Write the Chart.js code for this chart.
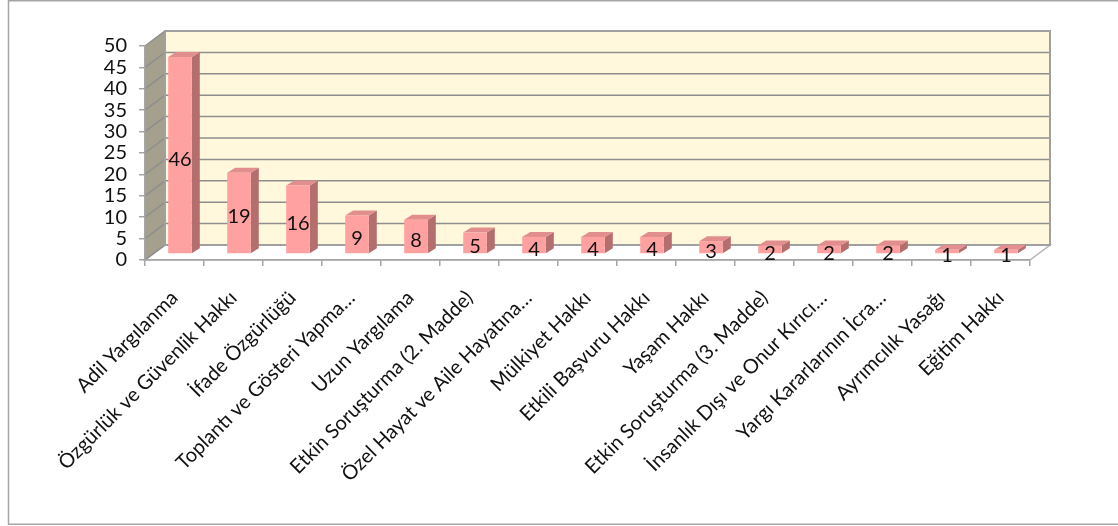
<!DOCTYPE html>
<html lang="tr">
<head>
<meta charset="utf-8">
<title>Hak ihlalleri</title>
<script src="https://cdn.jsdelivr.net/npm/chart.js@4.4.1/dist/chart.umd.min.js"></script>
<style>
  html, body { margin: 0; padding: 0; background: #fff; }
  #wrap { width: 1118px; height: 526px; }
</style>
</head>
<body>
<div id="wrap"><canvas id="chart" width="1118" height="526"></canvas></div>
<script>
const CATEGORIES = [
  'Adil Yargılanma',
  'Özgürlük ve Güvenlik Hakkı',
  'İfade Özgürlüğü',
  'Toplantı ve Gösteri Yapma…',
  'Uzun Yargılama',
  'Etkin Soruşturma (2. Madde)',
  'Özel Hayat ve Aile Hayatına…',
  'Mülkiyet Hakkı',
  'Etkili Başvuru Hakkı',
  'Yaşam Hakkı',
  'Etkin Soruşturma (3. Madde)',
  'İnsanlık Dışı ve Onur Kırıcı…',
  'Yargı Kararlarının İcra…',
  'Ayrımcılık Yasağı',
  'Eğitim Hakkı'
];
const VALUES = [46, 19, 16, 9, 8, 5, 4, 4, 4, 3, 2, 2, 2, 1, 1];

const Y_MIN = 0;
const Y_MAX = 50;
const Y_STEP = 5;

// 3B görünüm: kutunun derinliği ve çubukların kayması
const DEPTH_X = 20, DEPTH_Y = -15;
const BAR_SHIFT_X = 5.5, BAR_SHIFT_Y = -6;
const BAR_DX = 8, BAR_DY = -5;

const FAMILY = 'Lato, "Open Sans", sans-serif';
const TEXT = '#111111';
const AXIS = '#a6a6a6';
const GRID = '#8e8e8e';

function poly(ctx, pts, fill, stroke, lw) {
  ctx.beginPath();
  ctx.moveTo(pts[0][0], pts[0][1]);
  for (let i = 1; i < pts.length; i++) ctx.lineTo(pts[i][0], pts[i][1]);
  ctx.closePath();
  if (fill) { ctx.fillStyle = fill; ctx.fill(); }
  if (stroke) { ctx.strokeStyle = stroke; ctx.lineWidth = lw || 1; ctx.stroke(); }
}

const box3d = {
  id: 'box3d',
  beforeDraw(chart) {
    const { ctx, chartArea: a, scales: { y } } = chart;
    const L = a.left, R = a.right, T = a.top, B = a.bottom;

    ctx.save();
    // çerçeve
    ctx.strokeStyle = '#a6a6a6';
    ctx.lineWidth = 1.5;
    ctx.strokeRect(8.5, 0.75, 1200, 523.5);

    // zemin
    poly(ctx, [[L, B], [L + DEPTH_X, B + DEPTH_Y], [R + DEPTH_X, B + DEPTH_Y], [R, B]], '#ffffff', '#b4b4b4', 1.5);
    // sol duvar
    poly(ctx, [[L, T], [L + DEPTH_X, T + DEPTH_Y], [L + DEPTH_X, B + DEPTH_Y], [L, B]], '#a59f8d', '#9a9a9a', 1);
    // arka duvar
    poly(ctx, [[L + DEPTH_X, T + DEPTH_Y], [R + DEPTH_X, T + DEPTH_Y], [R + DEPTH_X, B + DEPTH_Y], [L + DEPTH_X, B + DEPTH_Y]], '#fff8dc', null);

    ctx.strokeStyle = GRID;
    ctx.lineWidth = 1.5;
    for (let v = Y_MIN; v <= Y_MAX; v += Y_STEP) {
      const py = y.getPixelForValue(v);
      ctx.beginPath();
      ctx.moveTo(L, py);
      ctx.lineTo(L + DEPTH_X, py + DEPTH_Y);
      ctx.lineTo(R + DEPTH_X + 1, py + DEPTH_Y);
      ctx.stroke();
    }
    poly(ctx, [[L + DEPTH_X, T + DEPTH_Y], [R + DEPTH_X, T + DEPTH_Y], [R + DEPTH_X, B + DEPTH_Y], [L + DEPTH_X, B + DEPTH_Y]], null, '#a0a0a0', 2);
    ctx.restore();
  },
  beforeDatasetsDraw(chart) {
    const { ctx } = chart;
    ctx.save();
    ctx.translate(BAR_SHIFT_X, BAR_SHIFT_Y);
    const meta = chart.getDatasetMeta(0);
    meta.data.forEach((bar) => {
      const { x, y, base, width } = bar.getProps(['x', 'y', 'base', 'width'], true);
      const l = x - width / 2, r = x + width / 2;
      poly(ctx, [[r, y], [r + BAR_DX, y + BAR_DY], [r + BAR_DX, base + BAR_DY], [r, base]], '#b56e6e', null);
      poly(ctx, [[l, y], [l + BAR_DX, y + BAR_DY], [r + BAR_DX, y + BAR_DY], [r, y]], '#e28e8e', null);
    });
  },
  afterDatasetsDraw(chart) {
    const { ctx } = chart;
    const meta = chart.getDatasetMeta(0);
    ctx.fillStyle = TEXT;
    ctx.font = `20px ${FAMILY}`;
    ctx.textAlign = 'center';
    ctx.textBaseline = 'middle';
    meta.data.forEach((bar, i) => {
      const { x, y, base } = bar.getProps(['x', 'y', 'base'], true);
      ctx.fillText(String(VALUES[i]), x, (y + base) / 2 + 4);
    });
    ctx.restore();
  }
};

new Chart(document.getElementById('chart'), {
  type: 'bar',
  data: {
    labels: CATEGORIES,
    datasets: [{
      data: VALUES,
      backgroundColor: '#ffa1a1',
      borderWidth: 0,
      barPercentage: 0.4,
      categoryPercentage: 1,
      clip: false
    }]
  },
  options: {
    responsive: false,
    animation: false,
    devicePixelRatio: 1,
    layout: { padding: { top: 46, right: 88, left: 0, bottom: 0 } },
    plugins: {
      legend: { display: false },
      tooltip: { enabled: false }
    },
    scales: {
      x: {
        grid: { offset: true, drawOnChartArea: false, tickLength: 6, color: AXIS, lineWidth: 1.5 },
        border: { display: true, color: AXIS, width: 1.5 },
        ticks: { autoSkip: false, minRotation: 45, maxRotation: 45, padding: 20, color: TEXT, font: { family: FAMILY, size: 20 } },
        afterFit: (s) => { s.height = 266; }
      },
      y: {
        min: Y_MIN,
        max: Y_MAX,
        ticks: { stepSize: Y_STEP, autoSkip: false, padding: 12, color: TEXT, font: { family: FAMILY, size: 20 } },
        grid: { drawOnChartArea: false, tickLength: 6, color: AXIS, lineWidth: 1.5 },
        border: { display: true, color: AXIS, width: 1.5 },
        afterFit: (s) => { s.width = 145; }
      }
    }
  },
  plugins: [box3d]
});
</script>
</body>
</html>
